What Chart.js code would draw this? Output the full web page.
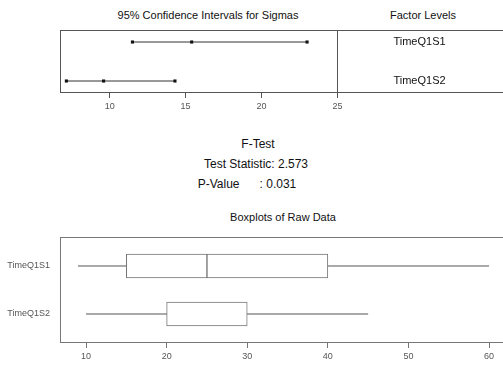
<!DOCTYPE html>
<html>
<head>
<meta charset="utf-8">
<script src="https://cdn.jsdelivr.net/npm/chart.js@4.4.1/dist/chart.umd.min.js"></script>
<style>
    body { margin: 0; background: #fff; width: 503px; height: 367px; overflow: hidden; position: relative;
           font-family: "Liberation Sans", Arial, sans-serif; }
    canvas { position: absolute; left: 0; }
    .txt { position: absolute; transform: translate(-50%, -50%); white-space: pre; color: #111; }
</style>
</head>
<body>
<div class="txt" style="left:208px; top:15px; font-size:11px;">95% Confidence Intervals for Sigmas</div>
<div class="txt" style="left:423px; top:15px; font-size:11px;">Factor Levels</div>
<canvas id="ci" width="510" height="120" style="top:0"></canvas>

<div class="txt" style="left:258px; top:144px; font-size:12px;">F-Test</div>
<div class="txt" style="left:256px; top:164px; font-size:12px;">Test Statistic: 2.573</div>
<div class="txt" style="left:247px; top:184px; font-size:12px;">P-Value      : 0.031</div>

<div class="txt" style="left:283px; top:217px; font-size:11px;">Boxplots of Raw Data</div>
<canvas id="box" width="510" height="167" style="top:200px"></canvas>

<script>
const levels = ['TimeQ1S1', 'TimeQ1S2'];

// 95% CIs for sigma: lower, estimate, upper
const sigmaLower = [11.5, 7.15];
const sigmaEst   = [15.4, 9.6];
const sigmaUpper = [23.0, 14.3];
const ciTicks    = [10, 15, 20, 25];
const ciSplit    = 25;

// raw data five-number summaries
const rawMin    = [9, 10];
const rawQ1     = [15, 20];
const rawMedian = [25, 20];
const rawQ3     = [40, 30];
const rawMax    = [60, 45];
const boxTicks  = [10, 20, 30, 40, 50, 60];

Chart.defaults.font.family = '"Liberation Sans", Arial, sans-serif';
Chart.defaults.animation = false;

// row position: first level on top
const rowOf = i => levels.length - 1 - i;

function framePlugin(color) {
    return {
        id: 'frame',
        afterDraw(chart) {
            const { ctx, chartArea: a } = chart;
            ctx.save();
            ctx.strokeStyle = color;
            ctx.lineWidth = 1;
            ctx.strokeRect(a.left + 0.5, a.top + 0.5, a.right - a.left, a.bottom - a.top);
            ctx.restore();
        },
    };
}

const factorPanel = {
    id: 'factorPanel',
    afterDraw(chart) {
        const { ctx, chartArea: a, scales: { x, y } } = chart;
        const sx = Math.round(x.getPixelForValue(ciSplit)) + 0.5;
        ctx.save();
        ctx.strokeStyle = '#555';
        ctx.lineWidth = 1;
        ctx.beginPath();
        ctx.moveTo(sx, a.top);
        ctx.lineTo(sx, a.bottom);
        ctx.stroke();
        ctx.fillStyle = '#111';
        ctx.font = '11px "Liberation Sans", Arial, sans-serif';
        ctx.textAlign = 'center';
        ctx.textBaseline = 'middle';
        levels.forEach((lv, i) => {
            ctx.fillText(lv, sx + 82, y.getPixelForValue(rowOf(i)));
        });
        ctx.restore();
    },
};

new Chart(document.getElementById('ci'), {
    type: 'line',
    data: {
        datasets: levels.map((lv, i) => ({
            label: lv,
            data: [sigmaLower[i], sigmaEst[i], sigmaUpper[i]].map(v => ({ x: v, y: rowOf(i) })),
            borderColor: '#333',
            borderWidth: 1,
            pointStyle: 'rect',
            pointRadius: 2.2,
            pointBackgroundColor: '#111',
            pointBorderColor: '#111',
            pointBorderWidth: 0,
        })),
    },
    options: {
        responsive: false,
        layout: { padding: { left: 60, top: 30, right: 0, bottom: 0 } },
        plugins: { legend: { display: false }, tooltip: { enabled: false } },
        scales: {
            x: {
                type: 'linear',
                min: 6.73,
                max: 36.1,
                afterBuildTicks: s => { s.ticks = ciTicks.map(v => ({ value: v })); },
                afterFit: s => { s.height = 28; },
                grid: { drawOnChartArea: false, tickLength: 6, color: '#555' },
                border: { color: '#555' },
                ticks: { color: '#555', font: { size: 9 }, padding: 3, maxRotation: 0 },
            },
            y: { type: 'linear', display: false, min: -0.282, max: 1.308 },
        },
    },
    plugins: [framePlugin('#555'), factorPanel],
});

const boxStyle = {
    type: 'bar',
    grouped: false,
    barThickness: 24,
    backgroundColor: '#fff',
    borderColor: '#777',
    borderWidth: 1,
    borderSkipped: false,
    order: 1,
};

new Chart(document.getElementById('box'), {
    type: 'bar',
    data: {
        datasets: [
            ...levels.map((lv, i) => ({
                type: 'line',
                label: lv + ' whiskers',
                data: [{ x: rawMin[i], y: rowOf(i) }, { x: rawMax[i], y: rowOf(i) }],
                borderColor: '#555',
                borderWidth: 1,
                pointRadius: 0,
                order: 2,
            })),
            { ...boxStyle, label: 'Q1-median', data: levels.map((lv, i) => ({ x: [rawQ1[i], rawMedian[i]], y: rowOf(i) })) },
            { ...boxStyle, label: 'median-Q3', data: levels.map((lv, i) => ({ x: [rawMedian[i], rawQ3[i]], y: rowOf(i) })) },
        ],
    },
    options: {
        indexAxis: 'y',
        responsive: false,
        layout: { padding: { left: 0, top: 37, right: 0, bottom: 0 } },
        plugins: { legend: { display: false }, tooltip: { enabled: false } },
        scales: {
            x: {
                type: 'linear',
                min: 6.77,
                max: 62.6,
                afterBuildTicks: s => { s.ticks = boxTicks.map(v => ({ value: v })); },
                afterFit: s => { s.height = 25; },
                grid: { drawOnChartArea: false, tickLength: 6, color: '#777' },
                border: { color: '#777' },
                ticks: { color: '#555', font: { size: 9 }, padding: 3, maxRotation: 0 },
            },
            y: {
                type: 'linear',
                offset: false,
                min: -0.583,
                max: 1.604,
                afterBuildTicks: s => { s.ticks = levels.map((lv, i) => ({ value: rowOf(i) })); },
                afterFit: s => { s.width = 60; },
                grid: { drawOnChartArea: false, drawTicks: false, offset: false },
                border: { display: false },
                ticks: {
                    color: '#555',
                    font: { size: 9 },
                    padding: 10,
                    callback: v => levels[levels.length - 1 - v],
                },
            },
        },
    },
    plugins: [framePlugin('#777')],
});
</script>
</body>
</html>
